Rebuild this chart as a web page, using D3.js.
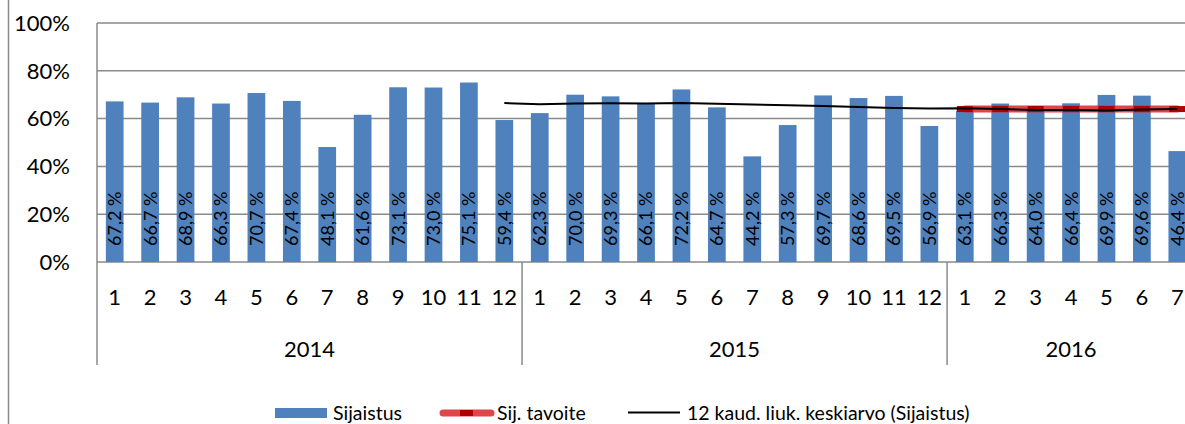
<!DOCTYPE html>
<html>
<head>
<meta charset="utf-8">
<script src="https://cdn.jsdelivr.net/npm/d3@7"></script>
<style>
  body { margin: 0; background: #fff; }
  svg text { font-family: Lato, "Open Sans", sans-serif; fill: #000; }
</style>
</head>
<body>
<div id="chart"></div>
<script>
// years and months on the category axis
var years = ["2014", "2015", "2016"];
var monthsPerYear = [12, 12, 7];
// Sijaistus, %
var sijaistus = [67.2, 66.7, 68.9, 66.3, 70.7, 67.4, 48.1, 61.6, 73.1, 73.0, 75.1, 59.4,
                 62.3, 70.0, 69.3, 66.1, 72.2, 64.7, 44.2, 57.3, 69.7, 68.6, 69.5, 56.9,
                 63.1, 66.3, 64.0, 66.4, 69.9, 69.6, 46.4];
// 12 kaud. liuk. keskiarvo, starts at 2014-12
var movingAvg = [null, null, null, null, null, null, null, null, null, null, null, 66.5,
                 66.0, 66.3, 66.4, 66.3, 66.5, 66.2, 65.9, 65.6, 65.3, 64.9, 64.4, 64.2,
                 64.3, 64.0, 63.6, 63.6, 63.4, 63.8, 64.0];
// Sij. tavoite, only 2016
var tavoite = [64, 64, 64, 64, 64, 64, 64];
var yTicks = [0, 20, 40, 60, 80, 100];

var W = 1185, H = 424;
var margin = { left: 97, top: 23, bottom: 262 };
var step = 35.42;

var cats = [];
years.forEach(function(y, yi) {
    for (var m = 1; m <= monthsPerYear[yi]; m++) cats.push({ year: y, month: m, key: y + "-" + m });
});

var svg = d3.select("#chart").append("svg")
    .attr("width", W).attr("height", H);

var x = d3.scaleBand()
    .domain(cats.map(function(d) { return d.key; }))
    .range([margin.left, margin.left + step * cats.length])
    .paddingInner(0.5).paddingOuter(0.25);

var y = d3.scaleLinear().domain([0, 100]).range([margin.bottom, margin.top]);

var gridColor = "#8a8a8a";

// chart area border on the left
svg.append("line")
    .attr("x1", 8.5).attr("x2", 8.5).attr("y1", 0).attr("y2", H)
    .attr("stroke", gridColor).attr("stroke-width", 1.5);

// gridlines
svg.append("g").selectAll("line")
    .data(yTicks).enter().append("line")
    .attr("x1", margin.left).attr("x2", margin.left + step * cats.length)
    .attr("y1", function(d) { return y(d); }).attr("y2", function(d) { return y(d); })
    .attr("stroke", gridColor).attr("stroke-width", 1.5);

// y labels
svg.append("g").selectAll("text")
    .data(yTicks).enter().append("text")
    .attr("x", 70).attr("y", function(d) { return y(d); })
    .attr("dy", "0.35em")
    .attr("text-anchor", "end")
    .style("font-size", "22px")
    .text(function(d) { return d + "%"; });

// bars
svg.append("g").selectAll("rect")
    .data(cats).enter().append("rect")
    .attr("x", function(d) { return x(d.key); })
    .attr("width", x.bandwidth())
    .attr("y", function(d, i) { return y(sijaistus[i]); })
    .attr("height", function(d, i) { return y(0) - y(sijaistus[i]); })
    .attr("fill", "#4f81bd");

// bar labels, rotated
svg.append("g").selectAll("text")
    .data(cats).enter().append("text")
    .attr("transform", function(d) {
        return "translate(" + (x(d.key) + x.bandwidth() / 2) + "," + 246 + ") rotate(-90)";
    })
    .attr("dy", "0.36em")
    .style("font-size", "18px")
    .text(function(d, i) { return sijaistus[i].toFixed(1).replace(".", ",") + " %"; });

// category axis: vertical lines at start and year boundaries
var boundaries = [0];
var acc = 0;
monthsPerYear.forEach(function(n) { acc += n; boundaries.push(acc); });
svg.append("g").selectAll("line")
    .data(boundaries.slice(0, -1)).enter().append("line")
    .attr("x1", function(d) { return margin.left + d * step; })
    .attr("x2", function(d) { return margin.left + d * step; })
    .attr("y1", function(d) { return d === 0 ? margin.top : margin.bottom; })
    .attr("y2", 365)
    .attr("stroke", gridColor).attr("stroke-width", 1.5);

// month labels
svg.append("g").selectAll("text")
    .data(cats).enter().append("text")
    .attr("x", function(d) { return x(d.key) + x.bandwidth() / 2; })
    .attr("y", 297).attr("dy", "0.35em")
    .attr("text-anchor", "middle")
    .style("font-size", "22px")
    .text(function(d) { return d.month; });

// year labels
svg.append("g").selectAll("text")
    .data(years).enter().append("text")
    .attr("x", function(d, i) { return margin.left + step * (boundaries[i] + boundaries[i + 1]) / 2; })
    .attr("y", 349).attr("dy", "0.35em")
    .attr("text-anchor", "middle")
    .style("font-size", "22px")
    .text(function(d) { return d; });

var cx = function(i) { return x(cats[i].key) + x.bandwidth() / 2; };

// target line
var offset = 24;
var tLine = d3.line()
    .x(function(d, i) { return cx(offset + i); })
    .y(function(d) { return y(d); });
svg.append("path")
    .datum(tavoite)
    .attr("d", tLine)
    .attr("fill", "none")
    .attr("stroke", "#d9262a").attr("stroke-opacity", 0.85)
    .attr("stroke-width", 7).attr("stroke-linecap", "round");
svg.append("g").selectAll("rect")
    .data(tavoite).enter().append("rect")
    .attr("x", function(d, i) { return cx(offset + i) - 8; })
    .attr("y", function(d) { return y(d) - 3; })
    .attr("width", 16).attr("height", 6)
    .attr("fill", "#b00000");

// moving average
var maLine = d3.line()
    .defined(function(d) { return d !== null; })
    .x(function(d, i) { return cx(i); })
    .y(function(d) { return y(d); });
svg.append("path")
    .datum(movingAvg)
    .attr("d", maLine)
    .attr("fill", "none")
    .attr("stroke", "#000").attr("stroke-width", 2);

// legend
var legend = svg.append("g").style("font-size", "19.5px");
legend.append("rect").attr("x", 275).attr("y", 408).attr("width", 52).attr("height", 10).attr("fill", "#4f81bd");
legend.append("text").attr("x", 333).attr("y", 413).attr("dy", "0.35em").text("Sijaistus");
legend.append("line").attr("x1", 443).attr("x2", 491).attr("y1", 413).attr("y2", 413)
    .attr("stroke", "#d9262a").attr("stroke-opacity", 0.85).attr("stroke-width", 7).attr("stroke-linecap", "round");
legend.append("rect").attr("x", 460).attr("y", 410).attr("width", 13).attr("height", 6).attr("fill", "#b00000");
legend.append("text").attr("x", 497).attr("y", 413).attr("dy", "0.35em").text("Sij. tavoite");
legend.append("line").attr("x1", 628).attr("x2", 680).attr("y1", 412.5).attr("y2", 412.5)
    .attr("stroke", "#000").attr("stroke-width", 2);
legend.append("text").attr("x", 687).attr("y", 413).attr("dy", "0.35em").text("12 kaud. liuk. keskiarvo (Sijaistus)");
</script>
</body>
</html>
